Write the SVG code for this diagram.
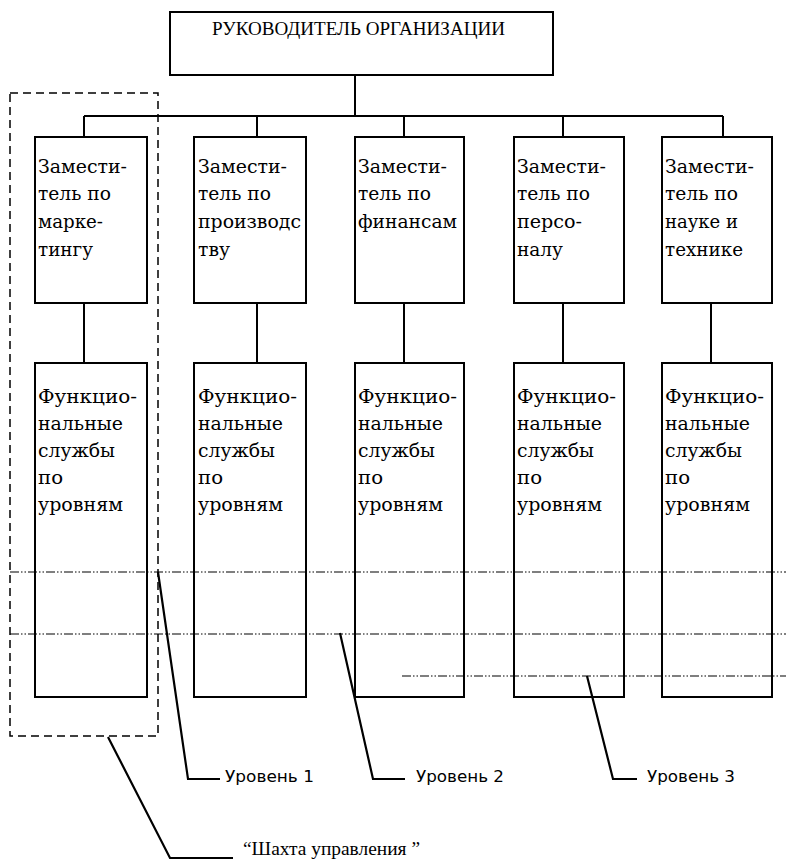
<svg xmlns="http://www.w3.org/2000/svg" width="786" height="861" viewBox="0 0 786 861">
<style>
.box{fill:#fff;stroke:#000;stroke-width:2}
.ln{fill:none;stroke:#000;stroke-width:2}
.lead{fill:none;stroke:#000;stroke-width:2.2;stroke-linejoin:miter}
.dd{fill:none;stroke:#000;stroke-width:1.2;stroke-dasharray:9 2 1.5 2 1.5 2}
.shaft{fill:none;stroke:#000;stroke-width:1.5;stroke-dasharray:8 5}
.t{font-family:"DejaVu Serif","Liberation Serif",serif;font-size:18px;fill:#000}
.head{font-family:"Liberation Serif","Times New Roman",serif;font-size:19px;fill:#000}
.lvl{font-family:"DejaVu Sans","Liberation Sans",sans-serif;font-size:15.5px;fill:#000}
.cap{font-family:"Liberation Serif","Times New Roman",serif;font-size:18px;fill:#000}
</style>
<rect width="786" height="861" fill="#fff"/>
<g id="connectors">
<path class="ln" d="M355 75V116M84 116H723M84 116V137M257 116V137M404 116V137M563 116V137M723 116V137"/>
<path class="ln" d="M84 303V363M257 303V363M404 303V363M563 303V363M711 303V363"/>
</g>
<g id="head">
<rect class="box" x="170" y="12" width="383" height="63"/>
<text class="head" x="212" y="35" textLength="293" lengthAdjust="spacingAndGlyphs">РУКОВОДИТЕЛЬ ОРГАНИЗАЦИИ</text>
</g>
<g id="dep1">
<rect class="box" x="35" y="137" width="112" height="166"/>
<text class="t" x="38" y="172.5" textLength="89" lengthAdjust="spacingAndGlyphs">Замести-</text>
<text class="t" x="38" y="200" textLength="73" lengthAdjust="spacingAndGlyphs">тель по</text>
<text class="t" x="38" y="228" textLength="65" lengthAdjust="spacingAndGlyphs">марке-</text>
<text class="t" x="38" y="255.5" textLength="55" lengthAdjust="spacingAndGlyphs">тингу</text>
</g>
<g id="dep2">
<rect class="box" x="194" y="137" width="112" height="166"/>
<text class="t" x="198" y="172.5" textLength="89" lengthAdjust="spacingAndGlyphs">Замести-</text>
<text class="t" x="198" y="200" textLength="73" lengthAdjust="spacingAndGlyphs">тель по</text>
<text class="t" x="198" y="228" textLength="103" lengthAdjust="spacingAndGlyphs">производс</text>
<text class="t" x="198" y="255.5" textLength="32" lengthAdjust="spacingAndGlyphs">тву</text>
</g>
<g id="dep3">
<rect class="box" x="355" y="137" width="109" height="166"/>
<text class="t" x="358" y="172.5" textLength="89" lengthAdjust="spacingAndGlyphs">Замести-</text>
<text class="t" x="358" y="200" textLength="73" lengthAdjust="spacingAndGlyphs">тель по</text>
<text class="t" x="358" y="228" textLength="99" lengthAdjust="spacingAndGlyphs">финансам</text>
</g>
<g id="dep4">
<rect class="box" x="514" y="137" width="110" height="166"/>
<text class="t" x="517" y="172.5" textLength="89" lengthAdjust="spacingAndGlyphs">Замести-</text>
<text class="t" x="517" y="200" textLength="73" lengthAdjust="spacingAndGlyphs">тель по</text>
<text class="t" x="517" y="228" textLength="65" lengthAdjust="spacingAndGlyphs">персо-</text>
<text class="t" x="517" y="255.5" textLength="46" lengthAdjust="spacingAndGlyphs">налу</text>
</g>
<g id="dep5">
<rect class="box" x="662" y="137" width="110" height="166"/>
<text class="t" x="665" y="172.5" textLength="89" lengthAdjust="spacingAndGlyphs">Замести-</text>
<text class="t" x="665" y="200" textLength="73" lengthAdjust="spacingAndGlyphs">тель по</text>
<text class="t" x="665" y="228" textLength="73" lengthAdjust="spacingAndGlyphs">науке и</text>
<text class="t" x="665" y="255.5" textLength="78" lengthAdjust="spacingAndGlyphs">технике</text>
</g>
<g id="fs1">
<rect class="box" x="35" y="363" width="112" height="334"/>
<text class="t" x="38" y="403" textLength="99" lengthAdjust="spacingAndGlyphs">Функцио-</text>
<text class="t" x="38" y="430" textLength="85" lengthAdjust="spacingAndGlyphs">нальные</text>
<text class="t" x="38" y="457" textLength="77" lengthAdjust="spacingAndGlyphs">службы</text>
<text class="t" x="38" y="484" textLength="25" lengthAdjust="spacingAndGlyphs">по</text>
<text class="t" x="38" y="511" textLength="85" lengthAdjust="spacingAndGlyphs">уровням</text>
</g>
<g id="fs2">
<rect class="box" x="194" y="363" width="112" height="334"/>
<text class="t" x="198" y="403" textLength="99" lengthAdjust="spacingAndGlyphs">Функцио-</text>
<text class="t" x="198" y="430" textLength="85" lengthAdjust="spacingAndGlyphs">нальные</text>
<text class="t" x="198" y="457" textLength="77" lengthAdjust="spacingAndGlyphs">службы</text>
<text class="t" x="198" y="484" textLength="25" lengthAdjust="spacingAndGlyphs">по</text>
<text class="t" x="198" y="511" textLength="85" lengthAdjust="spacingAndGlyphs">уровням</text>
</g>
<g id="fs3">
<rect class="box" x="355" y="363" width="109" height="334"/>
<text class="t" x="358" y="403" textLength="99" lengthAdjust="spacingAndGlyphs">Функцио-</text>
<text class="t" x="358" y="430" textLength="85" lengthAdjust="spacingAndGlyphs">нальные</text>
<text class="t" x="358" y="457" textLength="77" lengthAdjust="spacingAndGlyphs">службы</text>
<text class="t" x="358" y="484" textLength="25" lengthAdjust="spacingAndGlyphs">по</text>
<text class="t" x="358" y="511" textLength="85" lengthAdjust="spacingAndGlyphs">уровням</text>
</g>
<g id="fs4">
<rect class="box" x="514" y="363" width="110" height="334"/>
<text class="t" x="517" y="403" textLength="99" lengthAdjust="spacingAndGlyphs">Функцио-</text>
<text class="t" x="517" y="430" textLength="85" lengthAdjust="spacingAndGlyphs">нальные</text>
<text class="t" x="517" y="457" textLength="77" lengthAdjust="spacingAndGlyphs">службы</text>
<text class="t" x="517" y="484" textLength="25" lengthAdjust="spacingAndGlyphs">по</text>
<text class="t" x="517" y="511" textLength="85" lengthAdjust="spacingAndGlyphs">уровням</text>
</g>
<g id="fs5">
<rect class="box" x="662" y="363" width="110" height="334"/>
<text class="t" x="665" y="403" textLength="99" lengthAdjust="spacingAndGlyphs">Функцио-</text>
<text class="t" x="665" y="430" textLength="85" lengthAdjust="spacingAndGlyphs">нальные</text>
<text class="t" x="665" y="457" textLength="77" lengthAdjust="spacingAndGlyphs">службы</text>
<text class="t" x="665" y="484" textLength="25" lengthAdjust="spacingAndGlyphs">по</text>
<text class="t" x="665" y="511" textLength="85" lengthAdjust="spacingAndGlyphs">уровням</text>
</g>
<g id="levels">
<path class="dd" d="M10 572H786M10 634H786M402 676H786"/>
<rect class="shaft" x="10" y="93" width="148" height="643"/>
</g>
<g id="leaders">
<path class="lead" d="M158 572L188 779H220"/>
<path class="lead" d="M340 633L373 779H405"/>
<path class="lead" d="M587 676L613 779H637"/>
<path class="lead" d="M108 737L170 858H233"/>
</g>
<g id="labels">
<text class="lvl" x="225" y="782" textLength="89" lengthAdjust="spacingAndGlyphs">Уровень 1</text>
<text class="lvl" x="416" y="782" textLength="88" lengthAdjust="spacingAndGlyphs">Уровень 2</text>
<text class="lvl" x="647" y="782" textLength="88" lengthAdjust="spacingAndGlyphs">Уровень 3</text>
<text class="cap" x="243" y="855" textLength="177" lengthAdjust="spacingAndGlyphs">“Шахта управления ”</text>
</g>
</svg>
